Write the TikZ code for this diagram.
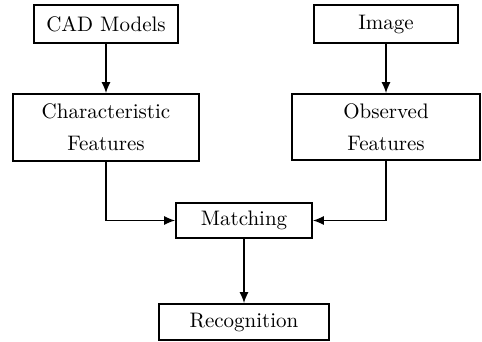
\documentclass[tikz,border=0pt]{standalone}
\usetikzlibrary{arrows.meta}

\begin{document}
\begin{tikzpicture}
  [
    x = 0.5pt, y = -0.5pt,
    box/.style = {draw, thick, rectangle, inner sep = 0pt, align = center,
        font = \fontsize{10.5}{16}\selectfont},
    flow/.style = {thick, -{Latex[length = 5.5pt, width = 4.5pt]}},
  ]

  \useasboundingbox (0,0) rectangle (482,342);

  \node (cad) [box, minimum width = 72pt, minimum height = 19pt] at (106,24) {CAD Models};
  \node (image) [box, minimum width = 72pt, minimum height = 19pt] at (386,24) {Image};

  \node (charfeat) [box, minimum width = 93pt, minimum height = 33.5pt] at (106,127.5)
    {Characteristic\\Features};
  \node (obsfeat) [box, minimum width = 94pt, minimum height = 33pt] at (386,127)
    {Observed\\Features};

  \node (matching) [box, minimum width = 68pt, minimum height = 17.5pt] at (244,220.5) {Matching};
  \node (recognition) [box, minimum width = 85pt, minimum height = 18pt] at (244,322) {Recognition};

  \draw [flow] (cad) -- (charfeat);
  \draw [flow] (image) -- (obsfeat);
  \draw [flow] (charfeat.south) |- (matching.west);
  \draw [flow] (obsfeat.south) |- (matching.east);
  \draw [flow] (matching) -- (recognition);

\end{tikzpicture}
\end{document}
